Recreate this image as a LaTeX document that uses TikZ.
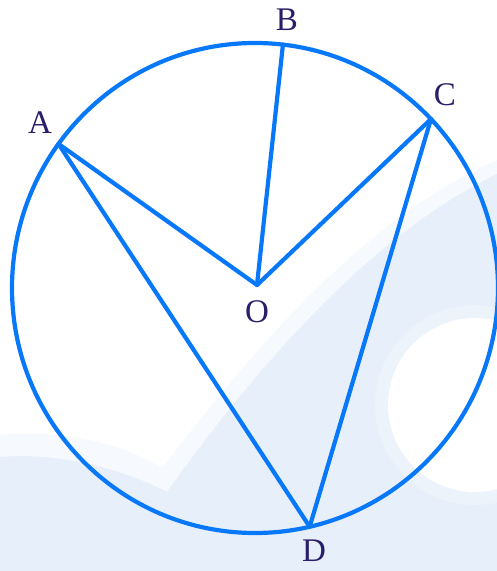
\documentclass[tikz,border=0pt]{standalone}
\usepackage{fontspec}
\setmainfont{Liberation Serif}
\usetikzlibrary{calc}
\definecolor{linecol}{RGB}{8,120,250}
\definecolor{labcol}{RGB}{40,30,105}
\definecolor{bgblue}{RGB}{231,239,250}
\definecolor{bgpale}{RGB}{246,249,253}
\definecolor{bghalo}{RGB}{237,243,251}
\begin{document}
\begin{tikzpicture}[x=1pt,y=-1pt,
  geo/.style={draw=linecol,line width=4.2pt,line join=round,line cap=round},
  lab/.style={text=labcol,font=\fontsize{33}{33}\selectfont,inner sep=0pt}]
\useasboundingbox (0,0) rectangle (497,571);
% background
\fill[white] (0,0) rectangle (497,571);
\fill[bgpale] (0,435) .. controls (60,430) and (120,442) .. (162,468)
  .. controls (235,375) and (350,225) .. (497,160) -- (497,571) -- (0,571) -- cycle;
\fill[bgblue] (0,457) .. controls (60,452) and (125,470) .. (167,492)
  .. controls (240,390) and (360,240) .. (497,174) -- (497,571) -- (0,571) -- cycle;
\fill[bghalo] (475,405) circle[radius=100pt];
\fill[white] (475,405) circle[radius=87pt];
% geometry
\coordinate (Oc) at (255,288);
\coordinate (O) at (257,285);
\coordinate (A) at ($(Oc)+(143.97:243pt and 245pt)$);
\coordinate (B) at ($(Oc)+(83.4:243pt and 245pt)$);
\coordinate (C) at ($(Oc)+(43.6:243pt and 245pt)$);
\coordinate (D) at ($(Oc)+(-77.0:243pt and 245pt)$);
\draw[geo] (Oc) ellipse[x radius=243pt,y radius=245pt];
\draw[geo] (A) -- (O) -- (C);
\draw[geo] (O) -- (B);
\draw[geo] (A) -- (D) -- (C);
% labels
\node[lab] (lA) at (40,123) {A};
\node[lab] (lB) at (287,20) {B};
\node[lab] (lC) at (445,95) {C};
\node[lab] (lO) at (257,312) {O};
\node[lab] (lD) at (314,551) {D};
\end{tikzpicture}
\end{document}
